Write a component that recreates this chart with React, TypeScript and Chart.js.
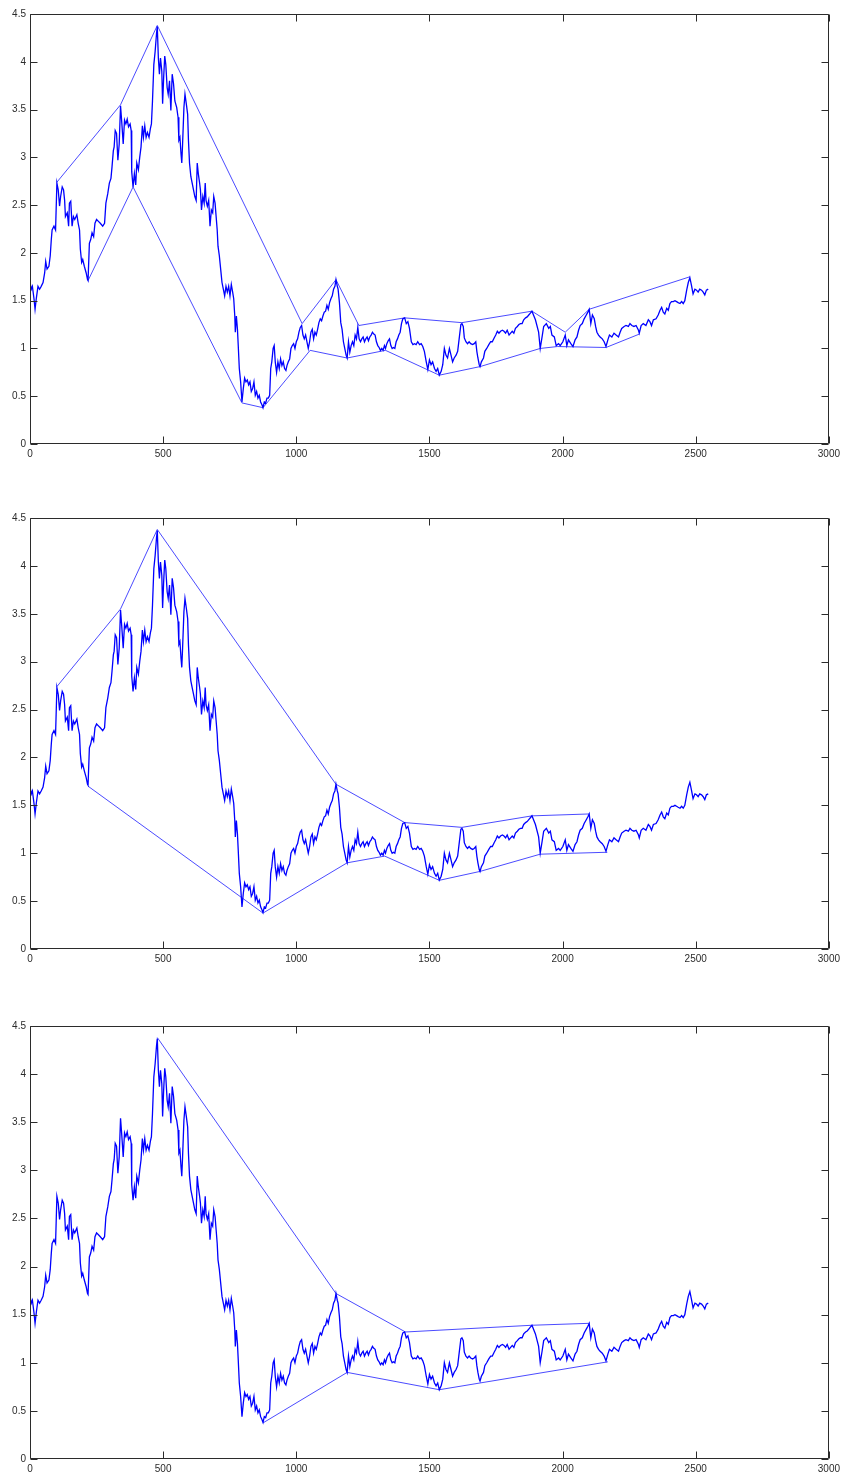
import React, { useEffect, useRef } from "react";
import { Chart, registerables } from "chart.js";

Chart.register(...registerables);

// Price series: [index, value]
const priceSeries: [number, number][] = [
  [0, 1.69], [5, 1.62], [9, 1.65], [15, 1.52], [19, 1.41], [24, 1.53], [30, 1.65], [36, 1.62], [42, 1.65], [49, 1.69],
  [55, 1.79], [59, 1.91], [64, 1.83], [71, 1.86], [76, 1.97], [80, 2.14], [83, 2.24], [90, 2.28], [96, 2.24], [101, 2.73],
  [106, 2.66], [111, 2.49], [115, 2.59], [121, 2.69], [126, 2.66], [130, 2.55], [133, 2.38], [140, 2.42], [145, 2.28], [148, 2.52],
  [153, 2.54], [158, 2.28], [163, 2.38], [168, 2.35], [176, 2.40], [181, 2.31], [186, 2.24], [189, 2.04], [194, 1.90], [198, 1.93],
  [204, 1.86], [211, 1.79], [216, 1.72], [218, 1.71], [223, 2.10], [228, 2.14], [233, 2.21], [239, 2.17], [244, 2.31], [250, 2.35],
  [257, 2.33], [264, 2.31], [273, 2.28], [280, 2.31], [285, 2.52], [292, 2.62], [298, 2.73], [304, 2.78], [308, 2.90], [313, 3.07],
  [316, 3.11], [320, 3.28], [325, 3.25], [330, 2.97], [335, 3.14], [340, 3.54], [345, 3.35], [350, 3.14], [355, 3.39], [360, 3.35],
  [365, 3.40], [370, 3.32], [376, 3.35], [380, 3.28], [382, 2.85], [387, 2.69], [392, 2.83], [397, 2.71], [401, 2.94], [407, 2.87],
  [412, 3.00], [417, 3.11], [422, 3.33], [426, 3.21], [431, 3.33], [436, 3.21], [441, 3.26], [447, 3.21], [452, 3.30], [456, 3.35],
  [460, 3.59], [465, 3.97], [470, 4.11], [475, 4.29], [478, 4.37], [482, 4.04], [486, 3.87], [490, 4.04], [495, 3.90], [498, 3.56],
  [502, 3.84], [506, 4.06], [510, 3.97], [515, 3.73], [519, 3.66], [524, 3.80], [529, 3.49], [534, 3.87], [539, 3.77], [544, 3.59],
  [551, 3.52], [556, 3.42], [559, 3.18], [563, 3.21], [567, 3.04], [570, 2.94], [573, 3.14], [578, 3.52], [582, 3.66], [587, 3.56],
  [592, 3.45], [595, 3.18], [599, 2.94], [604, 2.80], [609, 2.73], [614, 2.66], [619, 2.59], [624, 2.55], [628, 2.94], [632, 2.83],
  [637, 2.73], [640, 2.66], [644, 2.45], [649, 2.59], [654, 2.52], [658, 2.73], [661, 2.55], [666, 2.49], [671, 2.55], [676, 2.28],
  [681, 2.45], [686, 2.42], [690, 2.59], [695, 2.52], [699, 2.38], [703, 2.24], [706, 2.07], [711, 1.97], [716, 1.83], [721, 1.69],
  [726, 1.62], [731, 1.55], [736, 1.65], [741, 1.59], [746, 1.65], [751, 1.55], [756, 1.67], [761, 1.59], [765, 1.52], [769, 1.34],
  [771, 1.17], [775, 1.34], [779, 1.20], [782, 1.03], [786, 0.79], [791, 0.65], [796, 0.44], [801, 0.58], [806, 0.69], [811, 0.65],
  [816, 0.67], [821, 0.62], [826, 0.65], [831, 0.55], [836, 0.58], [841, 0.65], [846, 0.51], [851, 0.55], [856, 0.48], [861, 0.51],
  [866, 0.44], [871, 0.41], [875, 0.38], [880, 0.44], [885, 0.43], [890, 0.48], [895, 0.48], [900, 0.51], [904, 0.79], [908, 0.86],
  [913, 1.00], [917, 1.03], [921, 0.86], [926, 0.75], [931, 0.86], [936, 0.79], [941, 0.89], [946, 0.82], [951, 0.86], [956, 0.79],
  [961, 0.77], [965, 0.82], [970, 0.86], [975, 0.89], [980, 1.00], [985, 1.03], [990, 1.05], [995, 1.00], [1000, 1.07], [1005, 1.10],
  [1010, 1.17], [1015, 1.22], [1020, 1.24], [1025, 1.14], [1030, 1.10], [1035, 1.14], [1040, 1.07], [1045, 1.00], [1050, 1.07], [1055, 1.17],
  [1060, 1.20], [1065, 1.10], [1070, 1.17], [1075, 1.14], [1080, 1.20], [1085, 1.27], [1090, 1.31], [1095, 1.29], [1100, 1.34], [1105, 1.38],
  [1110, 1.39], [1115, 1.45], [1120, 1.41], [1125, 1.48], [1130, 1.52], [1135, 1.55], [1140, 1.62], [1145, 1.65], [1149, 1.72], [1154, 1.65],
  [1157, 1.62], [1162, 1.48], [1167, 1.27], [1172, 1.20], [1177, 1.07], [1182, 1.00], [1187, 0.93], [1191, 0.90], [1196, 1.07], [1201, 0.96],
  [1206, 1.03], [1211, 1.07], [1216, 1.03], [1221, 1.14], [1226, 1.10], [1231, 1.22], [1236, 1.10], [1241, 1.07], [1246, 1.10], [1251, 1.12],
  [1256, 1.07], [1261, 1.10], [1266, 1.12], [1271, 1.08], [1276, 1.12], [1281, 1.14], [1286, 1.17], [1291, 1.15], [1296, 1.14], [1301, 1.07],
  [1306, 1.03], [1311, 1.01], [1316, 0.98], [1321, 1.00], [1326, 0.98], [1331, 1.03], [1335, 1.00], [1340, 1.05], [1345, 1.08], [1350, 1.10],
  [1355, 1.03], [1360, 1.00], [1365, 1.01], [1370, 1.00], [1375, 1.07], [1380, 1.10], [1385, 1.14], [1390, 1.17], [1395, 1.26], [1400, 1.31],
  [1407, 1.32], [1413, 1.26], [1419, 1.28], [1425, 1.21], [1432, 1.07], [1438, 1.04], [1444, 1.05], [1450, 1.04], [1456, 1.07], [1463, 1.04],
  [1469, 1.05], [1475, 1.02], [1481, 0.97], [1488, 0.86], [1494, 0.78], [1500, 0.88], [1506, 0.83], [1512, 0.86], [1519, 0.79], [1525, 0.76],
  [1531, 0.79], [1537, 0.72], [1544, 0.76], [1550, 0.83], [1556, 1.00], [1562, 0.93], [1568, 0.90], [1575, 1.00], [1581, 0.93], [1587, 0.86],
  [1593, 0.90], [1600, 0.93], [1606, 0.97], [1612, 1.11], [1618, 1.25], [1622, 1.26], [1627, 1.23], [1631, 1.11], [1637, 1.07], [1643, 1.05],
  [1649, 1.07], [1655, 1.05], [1662, 1.04], [1668, 1.05], [1674, 1.07], [1678, 0.97], [1682, 0.90], [1687, 0.83], [1690, 0.81], [1695, 0.86],
  [1703, 0.90], [1708, 0.97], [1715, 1.00], [1723, 1.04], [1730, 1.07], [1736, 1.07], [1743, 1.11], [1749, 1.14], [1755, 1.18], [1761, 1.16],
  [1767, 1.18], [1774, 1.19], [1780, 1.18], [1786, 1.16], [1792, 1.19], [1799, 1.14], [1805, 1.16], [1811, 1.18], [1817, 1.16], [1823, 1.21],
  [1830, 1.23], [1836, 1.25], [1842, 1.26], [1848, 1.26], [1854, 1.30], [1861, 1.32], [1867, 1.33], [1873, 1.35], [1879, 1.37], [1885, 1.39],
  [1898, 1.30], [1910, 1.17], [1916, 1.00], [1923, 1.12], [1929, 1.23], [1939, 1.26], [1948, 1.21], [1954, 1.23], [1960, 1.14], [1969, 1.12],
  [1976, 1.03], [1985, 1.05], [1991, 1.03], [2001, 1.07], [2010, 1.14], [2016, 1.03], [2022, 1.09], [2031, 1.05], [2039, 1.02], [2047, 1.09],
  [2054, 1.12], [2060, 1.19], [2066, 1.24], [2074, 1.26], [2081, 1.31], [2089, 1.35], [2095, 1.38], [2100, 1.41], [2106, 1.26], [2112, 1.35],
  [2119, 1.31], [2124, 1.23], [2129, 1.17], [2135, 1.14], [2141, 1.12], [2149, 1.10], [2156, 1.07], [2163, 1.02], [2170, 1.09], [2176, 1.14],
  [2185, 1.12], [2193, 1.16], [2201, 1.14], [2210, 1.12], [2216, 1.17], [2222, 1.21], [2231, 1.23], [2238, 1.24], [2247, 1.23], [2253, 1.26],
  [2260, 1.24], [2268, 1.23], [2276, 1.24], [2285, 1.19], [2288, 1.16], [2295, 1.24], [2303, 1.26], [2313, 1.24], [2322, 1.30], [2328, 1.28],
  [2334, 1.24], [2341, 1.30], [2351, 1.31], [2359, 1.35], [2366, 1.40], [2372, 1.43], [2378, 1.38], [2384, 1.36], [2391, 1.42], [2397, 1.40],
  [2403, 1.47], [2409, 1.49], [2416, 1.49], [2422, 1.50], [2428, 1.49], [2434, 1.48], [2441, 1.47], [2447, 1.49], [2453, 1.47], [2459, 1.50],
  [2466, 1.61], [2472, 1.69], [2478, 1.74], [2484, 1.66], [2490, 1.57], [2497, 1.62], [2503, 1.61], [2509, 1.59], [2515, 1.62], [2522, 1.61],
  [2528, 1.59], [2534, 1.56], [2540, 1.61], [2547, 1.62],
];

// Envelope pivots, panel 1
const upper1: [number, number][] = [
  [101, 2.74], [340, 3.55], [478, 4.38], [1022, 1.26], [1149, 1.72], [1235, 1.24], [1407, 1.32],
  [1622, 1.27], [1885, 1.39], [2010, 1.17], [2100, 1.41], [2478, 1.75],
];
const lower1: [number, number][] = [
  [218, 1.71], [387, 2.69], [796, 0.43], [875, 0.38], [1052, 0.98], [1191, 0.90], [1335, 0.98],
  [1537, 0.72], [1690, 0.81], [1916, 1.00], [1981, 1.02], [2163, 1.01], [2288, 1.15],
];
// Envelope pivots, panel 2
const upper2: [number, number][] = [
  [101, 2.74], [340, 3.55], [478, 4.38], [1149, 1.72], [1407, 1.32], [1622, 1.27], [1885, 1.39], [2100, 1.41],
];
const lower2: [number, number][] = [
  [218, 1.70], [875, 0.375], [1191, 0.90], [1332, 0.97], [1537, 0.717], [1690, 0.81], [1916, 0.99], [2168, 1.01],
];
// Envelope pivots, panel 3
const upper3: [number, number][] = [
  [478, 4.38], [1149, 1.72], [1410, 1.32], [1885, 1.39], [2100, 1.41],
];
const lower3: [number, number][] = [
  [875, 0.375], [1191, 0.90], [1537, 0.72], [2170, 1.01],
];

const xTicks = [0, 500, 1000, 1500, 2000, 2500, 3000];
const yTicks = [0, 0.5, 1, 1.5, 2, 2.5, 3, 3.5, 4, 4.5];
const xTickLabels = ["0", "500", "1000", "1500", "2000", "2500", "3000"];
const yTickLabels = ["0", "0.5", "1", "1.5", "2", "2.5", "3", "3.5", "4", "4.5"];

const AXIS_COLOR = "#2b2b2b";
const FONT = { family: "'Liberation Sans', Arial, sans-serif", size: 10 };

const toPts = (arr: [number, number][]) => arr.map(([x, y]) => ({ x, y }));

const matlabAxes = {
  id: "matlabAxes",
  afterDraw(chart: any) {
    const { ctx, chartArea: a, scales } = chart;
    const L = Math.round(a.left) + 0.5;
    const R = Math.round(a.right) - 0.5;
    const T = Math.round(a.top) + 0.5;
    const B = Math.round(a.bottom) - 0.5;
    const tl = 7;
    ctx.save();
    ctx.strokeStyle = AXIS_COLOR;
    ctx.lineWidth = 1;
    ctx.beginPath();
    ctx.rect(L, T, R - L, B - T);
    for (const v of xTicks) {
      const px = Math.round(scales.x.getPixelForValue(v)) + 0.5;
      ctx.moveTo(px, B);
      ctx.lineTo(px, B - tl);
      ctx.moveTo(px, T);
      ctx.lineTo(px, T + tl);
    }
    for (const v of yTicks) {
      const py = Math.round(scales.y.getPixelForValue(v)) + 0.5;
      ctx.moveTo(L, py);
      ctx.lineTo(L + tl, py);
      ctx.moveTo(R, py);
      ctx.lineTo(R - tl, py);
    }
    ctx.stroke();
    ctx.restore();
  },
};

type PanelProps = {
  top: number;
  height: number;
  padTop: number;
  upper: [number, number][];
  lower: [number, number][];
};

function Panel({ top, height, padTop, upper, lower }: PanelProps) {
  const ref = useRef<HTMLCanvasElement>(null);
  useEffect(() => {
    if (!ref.current) return;
    const envStyle = {
      showLine: true,
      borderColor: "rgba(30,30,255,0.8)",
      borderWidth: 1,
      pointRadius: 0,
      fill: false,
    };
    const chart = new Chart(ref.current, {
      type: "scatter",
      data: {
        datasets: [
          {
            data: toPts(priceSeries),
            showLine: true,
            borderColor: "#0000ff",
            borderWidth: 1.3,
            pointRadius: 0,
            fill: false,
          },
          { data: toPts(upper), ...envStyle },
          { data: toPts(lower), ...envStyle },
        ],
      },
      options: {
        animation: false,
        responsive: false,
        events: [],
        layout: { padding: { top: padTop, right: 14, bottom: 0, left: 0 } },
        plugins: { legend: { display: false }, tooltip: { enabled: false } },
        scales: {
          x: {
            type: "linear",
            min: 0,
            max: 3000,
            afterBuildTicks: (s: any) => {
              s.ticks = xTicks.map((v) => ({ value: v }));
            },
            afterFit: (s: any) => {
              s.height = 26;
            },
            grid: { display: false, drawTicks: false },
            border: { display: false },
            ticks: {
              padding: 4,
              autoSkip: false,
              maxRotation: 0,
              color: AXIS_COLOR,
              font: FONT,
              callback: (v: any) => xTickLabels[xTicks.indexOf(Number(v))] ?? "",
            },
          },
          y: {
            type: "linear",
            min: 0,
            max: 4.5,
            afterBuildTicks: (s: any) => {
              s.ticks = yTicks.map((v) => ({ value: v }));
            },
            afterFit: (s: any) => {
              s.width = 30;
            },
            grid: { display: false, drawTicks: false },
            border: { display: false },
            ticks: {
              padding: 4,
              autoSkip: false,
              color: AXIS_COLOR,
              font: FONT,
              callback: (v: any) => yTickLabels[yTicks.indexOf(Number(v))] ?? "",
            },
          },
        },
      },
      plugins: [matlabAxes],
    } as any);
    return () => chart.destroy();
  }, []);
  return (
    <canvas
      ref={ref}
      width={844}
      height={height}
      style={{ position: "absolute", left: 0, top, display: "block" }}
    />
  );
}

export default function App() {
  return (
    <div style={{ position: "absolute", left: 0, top: 0, width: 844, height: 1474, background: "#fff" }}>
      <Panel top={0} height={470} padTop={14} upper={upper1} lower={lower1} />
      <Panel top={504} height={471} padTop={14} upper={upper2} lower={lower2} />
      <Panel top={1012} height={473} padTop={14} upper={upper3} lower={lower3} />
    </div>
  );
}
